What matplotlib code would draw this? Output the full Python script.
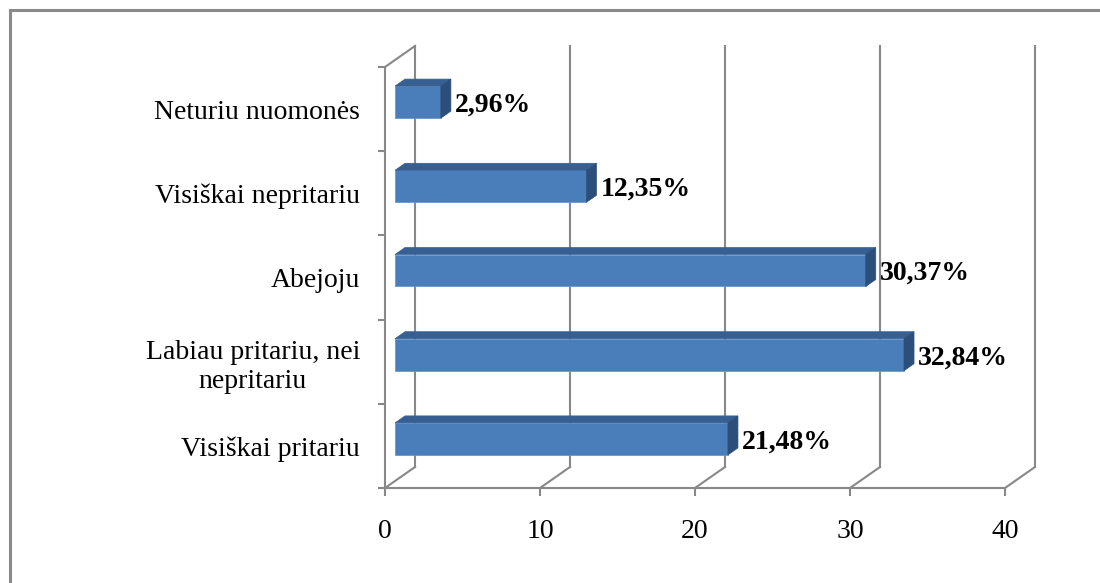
import numpy as np
import matplotlib
matplotlib.use("Agg")
import matplotlib.pyplot as plt
from matplotlib.patches import Polygon
from matplotlib.lines import Line2D

# data (bottom to top)
categories = ["Visiškai pritariu", "Labiau pritariu, nei\nnepritariu", "Abejoju",
              "Visiškai nepritariu", "Neturiu nuomonės"]
values = [21.48, 32.84, 30.37, 12.35, 2.96]
xticks = [0, 10, 20, 30, 40]

W, H = 1100, 583
fig = plt.figure(figsize=(W / 100, H / 100), dpi=100)
plt.rcParams['font.family'] = ['Liberation Serif', 'DejaVu Serif']

# front plot frame in pixels
x0_px, x1_px = 385, 1005
yb_px, yt_px = 488, 67
ax = fig.add_axes([x0_px / W, 1 - yb_px / H, (x1_px - x0_px) / W, (yb_px - yt_px) / H])
ax.set_xlim(0, 40)
ax.set_ylim(0, 5)

px_x = (x1_px - x0_px) / 40.0
px_y = (yb_px - yt_px) / 5.0
DX = 30 / px_x          # full depth, x shift in data units
DY = 21 / px_y          # full depth, y shift in data units

grey = "#888888"
lw = 1.5

# walls / grid
for t in xticks:
    ax.plot([t, t + DX], [0, DY], color=grey, lw=lw, clip_on=False, zorder=1)
    ax.plot([t + DX, t + DX], [DY, 5 + DY], color=grey, lw=lw, clip_on=False, zorder=1)
ax.plot([0, DX], [5, 5 + DY], color=grey, lw=lw, clip_on=False, zorder=1)

# 3d bars
front = "#4a7ebb"
top_c = "#375f92"
side_c = "#2b4e7a"
bh = 0.38
d0, d1 = 1 / 3, 2 / 3
for i, v in enumerate(values):
    yc = i + 0.5
    fx, fy = d0 * DX, d0 * DY
    bx, by = d1 * DX, d1 * DY
    y_lo, y_hi = yc - bh / 2 + fy, yc + bh / 2 + fy
    xs, xe = fx, v + fx
    ax.add_patch(Polygon([(xs, y_lo), (xe, y_lo), (xe, y_hi), (xs, y_hi)],
                         closed=True, fc=front, ec="#6a97cc", lw=0.6, zorder=3, clip_on=False))
    ax.add_patch(Polygon([(xs, y_hi), (xe, y_hi), (xe + bx - fx, y_hi + by - fy), (xs + bx - fx, y_hi + by - fy)],
                         closed=True, fc=top_c, ec=top_c, lw=0.5, zorder=3, clip_on=False))
    ax.add_patch(Polygon([(xe, y_lo), (xe + bx - fx, y_lo + by - fy), (xe + bx - fx, y_hi + by - fy), (xe, y_hi)],
                         closed=True, fc=side_c, ec=side_c, lw=0.5, zorder=3, clip_on=False))
    lbl = f"{v:.2f}".replace(".", ",") + "%"
    ax.text(v + bx + 4 / px_x, yc + fy - 3 / px_y, lbl, fontsize=20, fontweight="bold",
            ha="left", va="center", zorder=4)

# axes look
for s in ["top", "right"]:
    ax.spines[s].set_visible(False)
for s in ["left", "bottom"]:
    ax.spines[s].set_color(grey)
    ax.spines[s].set_linewidth(lw)
ax.set_xticks(xticks)
ax.set_xticklabels([str(t) for t in xticks], fontsize=20)
ax.tick_params(axis="x", direction="out", length=6, width=lw, color=grey, pad=16)
ax.set_yticks(range(6))
ax.set_yticklabels([])
ax.tick_params(axis="y", which="major", direction="out", length=5, width=lw, color=grey)
ax.set_yticks(np.arange(5) + 0.5, minor=True)
ax.set_yticklabels(categories, minor=True, fontsize=20)
ax.tick_params(axis="y", which="minor", length=0, pad=18)
for t in ax.get_yticklabels(minor=True):
    t.set_multialignment("center")
ax.set_facecolor("none")

# outer chart border (only left and top visible in crop)
fig.add_artist(Line2D([9.5 / W, 9.5 / W], [0, 1 - 9.5 / H], color="#8a8a8a", lw=2.2))
fig.add_artist(Line2D([9.5 / W, 1], [1 - 9.5 / H, 1 - 9.5 / H], color="#8a8a8a", lw=2.2))

fig.savefig("out.png", dpi=100)
